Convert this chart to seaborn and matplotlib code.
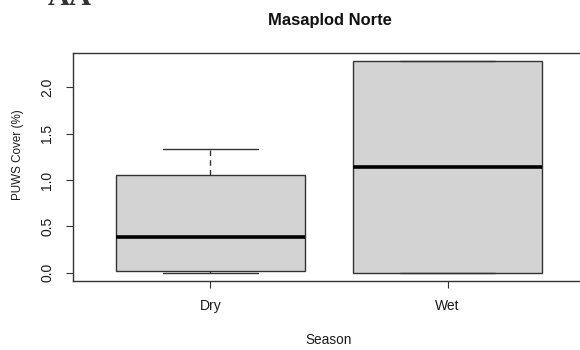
import matplotlib
matplotlib.use("Agg")
import matplotlib.pyplot as plt
import seaborn as sns
import pandas as pd

# PUWS cover observations per season
seasons = ["Dry", "Wet"]
dry_cover = [0.0, 0.02, 0.38, 1.054, 1.337]
wet_cover = [0.0, 0.0, 2.28, 2.28]
y_ticks = [0.0, 0.5, 1.0, 1.5, 2.0]

df = pd.DataFrame({
    "Season": ["Dry"] * len(dry_cover) + ["Wet"] * len(wet_cover),
    "Cover": dry_cover + wet_cover,
})

sns.set_style("ticks")
plt.rcParams["font.family"] = ["Liberation Sans", "DejaVu Sans"]

DPI = 100
fig = plt.figure(figsize=(5.8, 3.5), dpi=DPI)
ax = fig.add_axes([73 / 580, 69 / 350, 512 / 580, 228 / 350])

edge = "#333333"
sns.boxplot(
    data=df, x="Season", y="Cover", order=seasons, ax=ax,
    width=0.8, color="#D3D3D3", saturation=1, linecolor=edge, linewidth=1.0,
    whis=1.5, fliersize=0,
    boxprops=dict(facecolor="#D3D3D3", edgecolor=edge, linewidth=1.0),
    whiskerprops=dict(color=edge, linestyle=(0, (4, 3)), linewidth=1.0),
    capprops=dict(color=edge, linewidth=1.0),
    medianprops=dict(color="black", linewidth=2.6),
)

lo, hi = 0.0, 2.28
span = hi - lo
ax.set_ylim(lo - 0.04 * span, hi + 0.04 * span)
ax.set_xlim(-0.58, 1.58)

ax.set_yticks(y_ticks)
ax.set_yticklabels([f"{v:.1f}" for v in y_ticks], rotation=90, va="center")
ax.set_xticks(range(len(seasons)))
ax.set_xticklabels(seasons)

ax.tick_params(axis="both", direction="out", length=5, width=0.8,
               color=edge, labelsize=10, labelcolor="#1a1a1a")
ax.tick_params(axis="x", pad=8)
ax.tick_params(axis="y", pad=8.5)

for s in ax.spines.values():
    s.set_visible(True)
    s.set_color(edge)
    s.set_linewidth(1.0)

ax.set_xlabel("Season", fontsize=9.8, color="#1a1a1a")
ax.set_ylabel("PUWS Cover (%)", fontsize=8.4, color="#1a1a1a")
ax.yaxis.set_label_coords(-(73 - 18) / 512, (281 - 155) / 228)
ax.xaxis.set_label_coords(0.5, -(340 - 281) / 228)
ax.xaxis.label.set_va("center")
ax.yaxis.label.set_va("center")

fig.text(330 / 580, 1 - 21 / 350, "Masaplod Norte", ha="center", va="center",
         fontsize=11.9, fontweight="bold", color="#111111")
fig.text(70 / 580, 1 - 5 / 350, "AA", ha="center", va="baseline",
         fontsize=22, fontweight="bold", family="Liberation Serif", color="#333333")

fig.savefig("out.png", dpi=DPI, facecolor="white")
